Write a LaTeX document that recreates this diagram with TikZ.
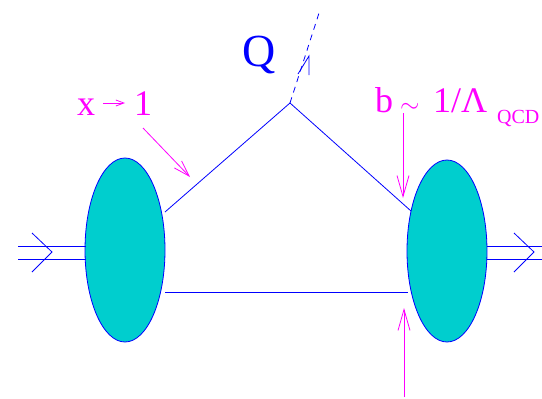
\documentclass[tikz,border=0pt]{standalone}
\usepackage{fontspec}
\setmainfont{Liberation Serif}
\usetikzlibrary{arrows.meta}
\definecolor{blobfill}{RGB}{0,206,206}
\definecolor{mag}{RGB}{255,0,255}
\begin{document}
\begin{tikzpicture}[x=1pt,y=-1pt,
  line/.style={draw=blue,line width=0.8pt},
  blob/.style={draw=blue,fill=blobfill,line width=0.8pt},
  magarrow/.style={draw=mag,line width=0.8pt,-{Straight Barb[length=21pt,width=12pt]}},
  lab/.style={text=mag,font=\fontsize{36}{38}\selectfont,inner sep=0pt,anchor=base west},
  sublab/.style={text=mag,font=\fontsize{20}{22}\selectfont,inner sep=0pt,anchor=base west}]
\useasboundingbox (0,0) rectangle (542,399);
% blobs
\draw[blob] (125,250) ellipse [x radius=40,y radius=92];
\draw[blob] (447,251) ellipse [x radius=40,y radius=91];
% incoming double lines
\coordinate (inA) at (18,246); \coordinate (inB) at (18,259);
\coordinate (lA) at (86,246); \coordinate (lB) at (86,259);
\draw[line] (inA) -- (lA);
\draw[line] (inB) -- (lB);
\coordinate (ct1) at (32,233); \coordinate (ctip) at (52,252); \coordinate (cb1) at (32,272);
\draw[line] (ct1) -- (ctip) -- (cb1);
\coordinate (rA) at (487,246); \coordinate (rB) at (487,259);
\coordinate (outA) at (542,246); \coordinate (outB) at (542,259);
\draw[line] (rA) -- (outA);
\draw[line] (rB) -- (outB);
\coordinate (ct2) at (514,233); \coordinate (ctip2) at (534,252); \coordinate (cb2) at (514,272);
\draw[line] (ct2) -- (ctip2) -- (cb2);
% triangle
\coordinate (tl) at (165,212);
\coordinate (apex) at (290,103);
\coordinate (tr) at (411,211);
\draw[line] (tl) -- (apex) -- (tr);
\coordinate (bl) at (165,292);
\coordinate (br) at (408,292);
\draw[line] (bl) -- (br);
% dashed outgoing
\coordinate (qend) at (320,10);
\draw[line,dashed,dash pattern=on 6pt off 5pt] (apex) -- (qend);
\coordinate (qtip) at (309,56);
\coordinate (qb1) at (309,75);
\coordinate (qb2) at (298,74);
\draw[line] (qb1) -- (qtip) -- (qb2);
\node[text=blue,font=\fontsize{46}{48}\selectfont,inner sep=0pt,anchor=base] (Q) at (259,66) {Q};
% x -> 1
\node[lab] (xlab) at (77,115) {x};
\node[lab] (onelab) at (134,115) {1};
\coordinate (xa1) at (103,103); \coordinate (xa2) at (125,103);
\draw[draw=mag,line width=0.8pt,-{Straight Barb[length=8pt,width=6pt]}] (xa1) -- (xa2);
\coordinate (xs) at (143,128); \coordinate (xe) at (190,177);
\draw[draw=mag,line width=0.8pt,-{Straight Barb[length=16pt,width=10pt]}] (xs) -- (xe);
% b label
\node[lab] (blab) at (375,112) {b};
\node[lab] (tilde) at (400,112) {$\sim$};
\node[lab] (oneslash) at (433,112) {1/};
\node[lab] (lam) at (461,112) {Λ};
\node[sublab] (qcd) at (497,123) {QCD};
\coordinate (bs) at (403,113); \coordinate (be) at (403,198);
\draw[magarrow] (bs) -- (be);
\coordinate (us) at (404,397); \coordinate (ue) at (404,308);
\draw[magarrow] (us) -- (ue);
\end{tikzpicture}
\end{document}
